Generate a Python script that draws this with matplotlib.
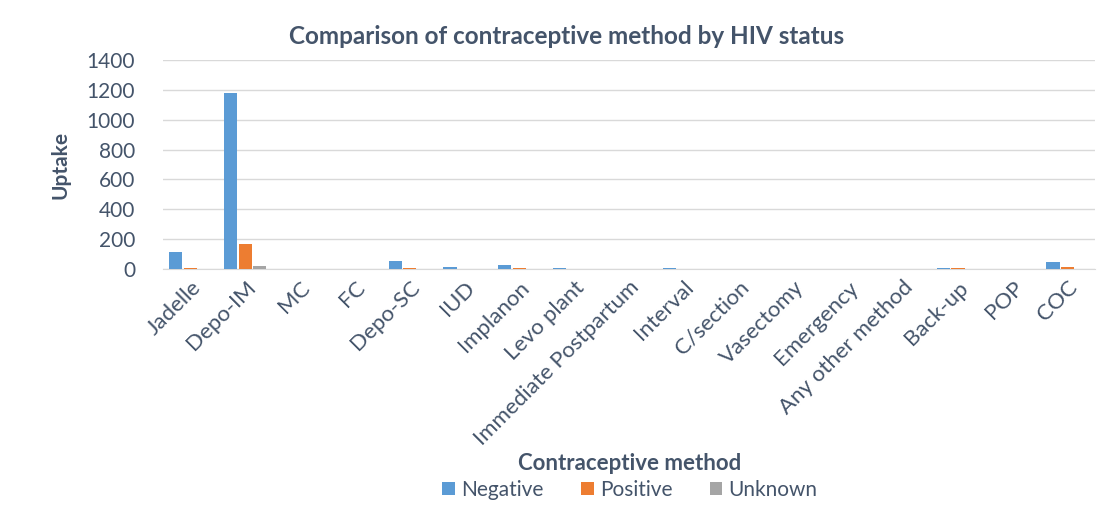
import numpy as np
import matplotlib.pyplot as plt

plt.rcParams['font.family'] = ['Lato', 'DejaVu Sans']

methods = ['Jadelle', 'Depo-IM', 'MC', 'FC', 'Depo-SC', 'IUD', 'Implanon',
           'Levo plant', 'Immediate Postpartum', 'Interval', 'C/section',
           'Vasectomy', 'Emergency', 'Any other method', 'Back-up', 'POP', 'COC']
negative = [114, 1180, 0, 0, 52, 12, 29, 10, 0, 8, 0, 0, 0, 0, 8, 0, 45]
positive = [4, 165, 0, 0, 9, 0, 8, 0, 0, 0, 0, 0, 0, 0, 6, 0, 12]
unknown = [3, 20, 0, 0, 0, 0, 0, 0, 0, 0, 0, 0, 0, 0, 0, 0, 0]

txt = '#44546A'
fig = plt.figure(figsize=(11.15, 5.14), dpi=100, facecolor='white')
ax = fig.add_axes([163 / 1115, 1 - 269 / 514, (1095 - 163) / 1115, (269 - 60) / 514])

x = np.arange(len(methods))
w = 0.24
ax.bar(x - 0.265, negative, w, color='#5B9BD5', label='Negative', zorder=3)
ax.bar(x, positive, w, color='#ED7D31', label='Positive', zorder=3)
ax.bar(x + 0.265, unknown, w, color='#A5A5A5', label='Unknown', zorder=3)

ax.set_xlim(-0.5, len(methods) - 0.5)
ax.set_ylim(0, 1400)
ax.set_yticks(range(0, 1401, 200))
ax.grid(axis='y', color='#D9D9D9', linewidth=1, zorder=0)
for s in ['top', 'right', 'left']:
    ax.spines[s].set_visible(False)
ax.spines['bottom'].set_color('#D9D9D9')
ax.tick_params(axis='both', length=0, colors=txt, labelsize=15)
ax.tick_params(axis='y', pad=20)
ax.set_xticks(x)
ax.set_xticklabels(methods, rotation=45, ha='right', rotation_mode='anchor', fontsize=16)
ax.tick_params(axis='x', pad=6)

fig.text(0.508, 1 - 37 / 514, 'Comparison of contraceptive method by HIV status',
         fontsize=17.5, fontweight='bold', color=txt, ha='center', va='center')
ax.set_ylabel('Uptake', fontsize=15, fontweight='bold', color=txt, labelpad=12)
fig.text(0.565, 1 - 463 / 514, 'Contraceptive method', fontsize=16, fontweight='bold',
         color=txt, ha='center', va='center')
fig.legend(loc='center', bbox_to_anchor=(0.565, 1 - 490 / 514), ncol=3, frameon=False,
           fontsize=15, labelcolor=txt, handlelength=0.6, handleheight=0.6,
           columnspacing=1.8, handletextpad=0.3)

fig.savefig('out.png', dpi=100, facecolor='white')
